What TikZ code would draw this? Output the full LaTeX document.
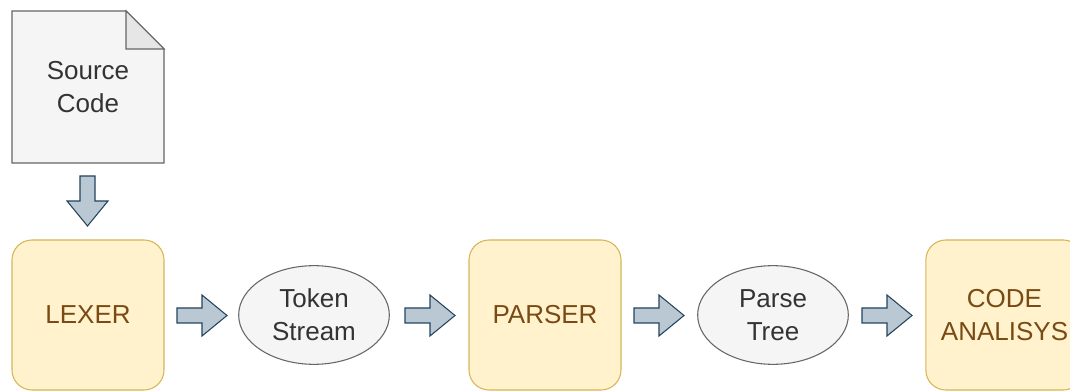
\documentclass[tikz,border=0pt]{standalone}
\usepackage{fontspec}
\setmainfont{Liberation Sans}
\usetikzlibrary{shapes.geometric,calc}
\definecolor{docfill}{HTML}{F5F5F5}
\definecolor{docline}{HTML}{666666}
\definecolor{foldfill}{HTML}{E6E6E6}
\definecolor{txtgray}{HTML}{333333}
\definecolor{boxfill}{HTML}{FFF2CC}
\definecolor{boxline}{HTML}{D6B656}
\definecolor{boxtxt}{HTML}{7A4A14}
\definecolor{arrfill}{HTML}{BAC8D3}
\definecolor{arrline}{HTML}{23445D}
\tikzset{
  lbl/.style={font=\fontsize{19.5}{24.5}\selectfont, align=center},
  stagebox/.style={lbl, draw=boxline, fill=boxfill, line width=0.8pt, rounded corners=15pt,
    minimum width=114pt, minimum height=112.5pt, inner sep=0pt, text=boxtxt},
  dataell/.style={lbl, draw=docline, fill=docfill, line width=0.8pt, ellipse,
    minimum width=113pt, minimum height=74pt, inner sep=0pt, text=txtgray},
  blockarrow/.style={draw=arrline, fill=arrfill, line width=0.8pt, line join=miter},
}
\begin{document}
\begin{tikzpicture}[x=0.75pt,y=-0.75pt]
\useasboundingbox (0,0) rectangle (1070,391);
% source document
\draw[draw=docline, fill=docfill, line width=0.8pt] (12,11) -- (126,11) -- (164,49) -- (164,163) -- (12,163) -- cycle;
\draw[draw=docline, fill=foldfill, line width=0.8pt] (126,11) -- (126,49) -- (164,49) -- cycle;
\node[lbl, text=txtgray] (src) at (88,87) {Source\\Code};
% stages
\node[stagebox] (lexer) at (88,315) {LEXER};
\node[dataell] (tokens) at (314,315) {Token\\Stream};
\node[stagebox] (parser) at (545,315) {PARSER};
\node[dataell] (tree) at (773,315) {Parse\\Tree};
\node[stagebox, minimum width=118pt] (code) at (1004.5,315) {CODE\\ANALISYS};
% block arrows
\coordinate (a1) at (202,315.5);
\coordinate (a2) at (430,315.5);
\coordinate (a3) at (659,315.5);
\coordinate (a4) at (887,315.5);
\foreach \c in {a1,a2,a3,a4}{
  \draw[blockarrow] ($(\c)+(-25,-7.5)$) -- ++(25,0) -- ++(0,-13) -- ++(25,20.5) -- ++(-25,20.5) -- ++(0,-13) -- ++(-25,0) -- cycle;
}
\coordinate (d1) at (87.5,201);
\draw[blockarrow] ($(d1)+(-7.5,-25)$) -- ++(0,25) -- ++(-13,0) -- ++(20.5,25) -- ++(20.5,-25) -- ++(-13,0) -- ++(0,-25) -- cycle;
\end{tikzpicture}
\end{document}
